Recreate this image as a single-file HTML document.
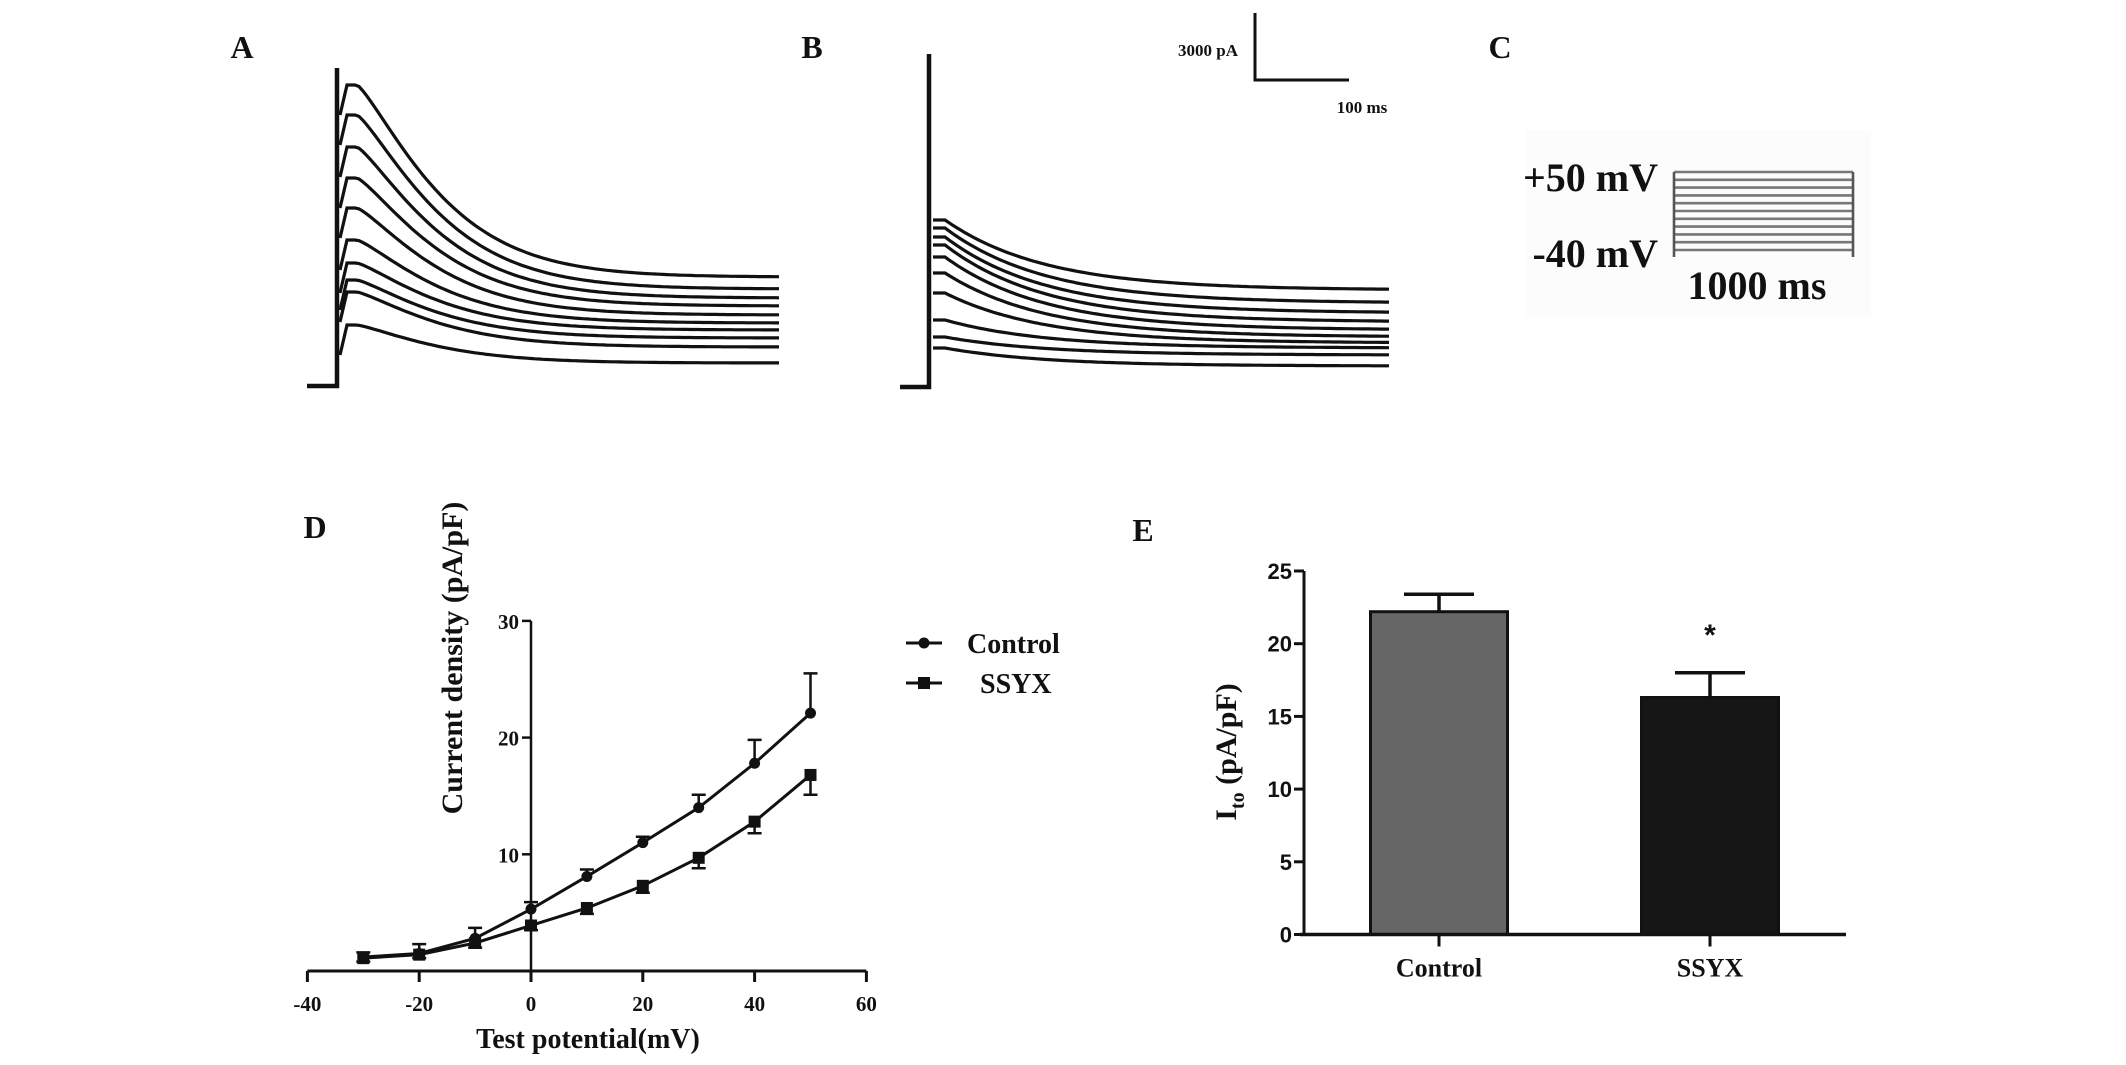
<!DOCTYPE html>
<html><head><meta charset="utf-8">
<style>
html,body{margin:0;padding:0;background:#fff;}
svg{display:block;}
text{font-family:"Liberation Serif",serif;font-weight:bold;fill:#111;}
.sans{font-family:"Liberation Sans",sans-serif;}
</style></head>
<body>
<svg id="fig" width="2126" height="1065" viewBox="0 0 2126 1065" xmlns="http://www.w3.org/2000/svg">
  <g id="panelA"></g>
  <g id="panelB"></g>
  <g id="panelC"></g>
  <g id="panelD"></g>
  <g id="panelE"></g>
</svg>
<script>
// ---- Panel D data ----
const dVoltages = [-30,-20,-10,0,10,20,30,40,50];
const dControl = [1.2,1.5,2.8,5.3,8.1,11.0,14.0,17.8,22.1];
const dControlErr = [0.4,0.8,0.9,0.6,0.6,0.5,1.1,2.0,3.4];
const dSsyx = [1.1,1.4,2.4,3.9,5.4,7.3,9.7,12.8,16.8];
const dSsyxErr = [0.3,0.3,0.4,0.4,0.5,0.6,0.9,1.0,1.7];
const dXTicks = [-40,-20,0,20,40,60];
const dYTicks = [10,20,30];
// ---- Panel E data ----
const eGroups = ["Control","SSYX"];
const eValues = [22.2,16.3];
const eErrors = [1.2,1.7];
const eYTicks = [0,5,10,15,20,25];
// ---- Trace panels (A/B) peak / steady-state levels ----
const aPeaks = [85,115,147,178,208,240,263,280,292,325];
const aEnds = [277,289,298,306,315,323,330,338,347,363];
const bStarts = [220,228,237,245,257,273,293,320,337,348];
const bEnds = [290,303,313,322,330,337,343,348,355,366];
const cSteps = [0,1,2,3,4,5,6,7,8,9,10];

const NS="http://www.w3.org/2000/svg";
function mk(parent,tag,attrs){const e=document.createElementNS(NS,tag);for(const k in attrs)e.setAttribute(k,attrs[k]);parent.appendChild(e);return e;}
function txt(parent,x,y,s,size,extra){const t=mk(parent,'text',Object.assign({x:x,y:y,'font-size':size},extra||{}));t.textContent=s;return t;}

// ---------- Panel A ----------
(function(){
  const g=document.getElementById('panelA');
  const l=txt(g,242,58,'A',32,{'text-anchor':'middle'});
  
  
  mk(g,'path',{d:'M307 386 L337 386 L337 68',stroke:'#111','stroke-width':4.5,fill:'none'});
  aPeaks.forEach((p,i)=>{
    const e=aEnds[i];let d='M340 '+(p+30)+' L347 '+p;
    for(let x=347;x<=780;x+=4){const dd=Math.max(0,x-357);const y=e+(p-e)*Math.exp(-Math.pow(dd/95,1.25));d+=' L'+x+' '+y.toFixed(1);}
    const path=mk(g,'path',{d:d,stroke:'#111','stroke-width':3.2,fill:'none'});
    
    
  });
})();

// ---------- Panel B ----------
(function(){
  const g=document.getElementById('panelB');
  const l=txt(g,812,58,'B',32,{'text-anchor':'middle'});
  
  
  mk(g,'path',{d:'M900 387 L929 387 L929 54',stroke:'#111','stroke-width':4.5,fill:'none'});
  bStarts.forEach((s,i)=>{
    const e=bEnds[i];let d='M933 '+s;
    for(let x=933;x<=1389;x+=4){const dd=Math.max(0,x-945);const y=e+(s-e)*Math.exp(-dd/100);d+=' L'+x+' '+y.toFixed(1);}
    const path=mk(g,'path',{d:d,stroke:'#111','stroke-width':3.2,fill:'none'});
    
    
  });
  mk(g,'path',{d:'M1255 13 L1255 80 L1349 80',stroke:'#111','stroke-width':3,fill:'none'});
  txt(g,1238,56,'3000 pA',17,{'text-anchor':'end'});
  txt(g,1362,113,'100 ms',17,{'text-anchor':'middle'});
})();

// ---------- Panel C ----------
(function(){
  const g=document.getElementById('panelC');
  const l=txt(g,1500,58,'C',32,{'text-anchor':'middle'});
  
  
  mk(g,'rect',{x:1526,y:130,width:345,height:187,fill:'#fcfcfc'});
  const top=172,bot=250;
  cSteps.forEach(i=>{const y=top+(bot-top)*i/(cSteps.length-1);mk(g,'line',{x1:1674,x2:1853,y1:y,y2:y,stroke:'#777','stroke-width':2.6});});
  mk(g,'path',{d:'M1674 257 L1674 172 M1853 172 L1853 257',stroke:'#555','stroke-width':2.6,fill:'none'});
  txt(g,1658,191,'+50 mV',40,{'text-anchor':'end'});
  txt(g,1658,267,'-40 mV',40,{'text-anchor':'end'});
  txt(g,1757,299,'1000 ms',40,{'text-anchor':'middle'});
})();

// ---------- Panel D ----------
(function(){
  const g=document.getElementById('panelD');
  const X=v=>531+(v)*5.59;
  const Y=v=>971-v*11.67;
  const l=txt(g,315,538,'D',32,{'text-anchor':'middle'});
  
  
  const xa=mk(g,'line',{x1:X(-40),x2:X(60),y1:Y(0),y2:Y(0),stroke:'#111','stroke-width':3});
  
  
  const ya=mk(g,'line',{x1:X(0),x2:X(0),y1:Y(30),y2:Y(0),stroke:'#111','stroke-width':2.5});
  
  
  dXTicks.forEach(v=>{mk(g,'line',{x1:X(v),x2:X(v),y1:Y(0),y2:Y(0)+11,stroke:'#111','stroke-width':3});
    const t=txt(g,X(v),Y(0)+40,String(v),21,{'text-anchor':'middle'});
    
    });
  dYTicks.forEach(v=>{mk(g,'line',{x1:X(0)-9,x2:X(0),y1:Y(v),y2:Y(v),stroke:'#111','stroke-width':2.5});
    const t=txt(g,X(0)-12,Y(v)+8,String(v),21,{'text-anchor':'end'});
    
    });
  const yt=txt(g,0,0,'Current density (pA/pF)',30,{'text-anchor':'middle',transform:'translate(462 658) rotate(-90)'});
  
  
  const xt=txt(g,588,1048,'Test potential(mV)',28,{'text-anchor':'middle'});
  
  
  function series(vals,errs,up,marker,name){
    let d='';vals.forEach((v,i)=>{d+=(i?' L':'M')+X(dVoltages[i])+' '+Y(v);});
    const p=mk(g,'path',{d:d,stroke:'#111','stroke-width':3,fill:'none'});
    
    
    vals.forEach((v,i)=>{const x=X(dVoltages[i]);const ye=Y(up?v+errs[i]:v-errs[i]);
      mk(g,'path',{d:'M'+x+' '+Y(v)+' L'+x+' '+ye+' M'+(x-7)+' '+ye+' L'+(x+7)+' '+ye,stroke:'#111','stroke-width':2.5,fill:'none'});
      let m;
      if(marker==='c')m=mk(g,'circle',{cx:x,cy:Y(v),r:5.5,fill:'#111'});
      else m=mk(g,'rect',{x:x-6,y:Y(v)-6,width:12,height:12,fill:'#111'});
      
      
    });
  }
  series(dSsyx,dSsyxErr,false,'s','ssyx');
  series(dControl,dControlErr,true,'c','control');
  const lg=mk(g,'g',{});
  
  
  mk(lg,'line',{x1:906,x2:942,y1:643,y2:643,stroke:'#111','stroke-width':3});
  mk(lg,'circle',{cx:924,cy:643,r:5.5,fill:'#111'});
  txt(lg,967,653,'Control',28,{});
  mk(lg,'line',{x1:906,x2:942,y1:683,y2:683,stroke:'#111','stroke-width':3});
  mk(lg,'rect',{x:918,y:677,width:12,height:12,fill:'#111'});
  txt(lg,980,693,'SSYX',28,{});
})();

// ---------- Panel E ----------
(function(){
  const g=document.getElementById('panelE');
  const Y=v=>934.5-v*14.54;
  const cx=[1439,1710], bw=137;
  const l=txt(g,1143,541,'E',32,{'text-anchor':'middle'});
  
  
  const fills=['#666','#161616'];
  eValues.forEach((v,i)=>{
    const b=mk(g,'rect',{x:cx[i]-bw/2,y:Y(v),width:bw,height:Y(0)-Y(v),fill:fills[i],stroke:'#111','stroke-width':3});
    
    
    const ye=Y(v+eErrors[i]);
    mk(g,'path',{d:'M'+cx[i]+' '+Y(v)+' L'+cx[i]+' '+ye+' M'+(cx[i]-35)+' '+ye+' L'+(cx[i]+35)+' '+ye,stroke:'#111','stroke-width':3.5,fill:'none'});
    mk(g,'line',{x1:cx[i],x2:cx[i],y1:Y(0),y2:Y(0)+12,stroke:'#111','stroke-width':3});
    const t=txt(g,cx[i],Y(0)+42,eGroups[i],26,{'text-anchor':'middle'});
    
    
  });
  const xa=mk(g,'line',{x1:1300,x2:1846,y1:Y(0),y2:Y(0),stroke:'#111','stroke-width':3.5});
  
  
  const ya=mk(g,'line',{x1:1304,x2:1304,y1:Y(25),y2:Y(0),stroke:'#111','stroke-width':3});
  
  
  eYTicks.forEach(v=>{mk(g,'line',{x1:1294,x2:1304,y1:Y(v),y2:Y(v),stroke:'#111','stroke-width':3});
    const t=txt(g,1292,Y(v)+8,String(v),22,{'text-anchor':'end','class':'sans'});
    
    });
  const star=txt(g,1710,645,'*',30,{'text-anchor':'middle','class':'sans'});
  
  
  const yt=mk(g,'text',{'font-size':30,'text-anchor':'middle',transform:'translate(1236 752) rotate(-90)'});
  yt.innerHTML='I<tspan font-size="20" dy="8">to</tspan><tspan dy="-8"> (pA/pF)</tspan>';
  
  
})();
</script>
</body></html>
